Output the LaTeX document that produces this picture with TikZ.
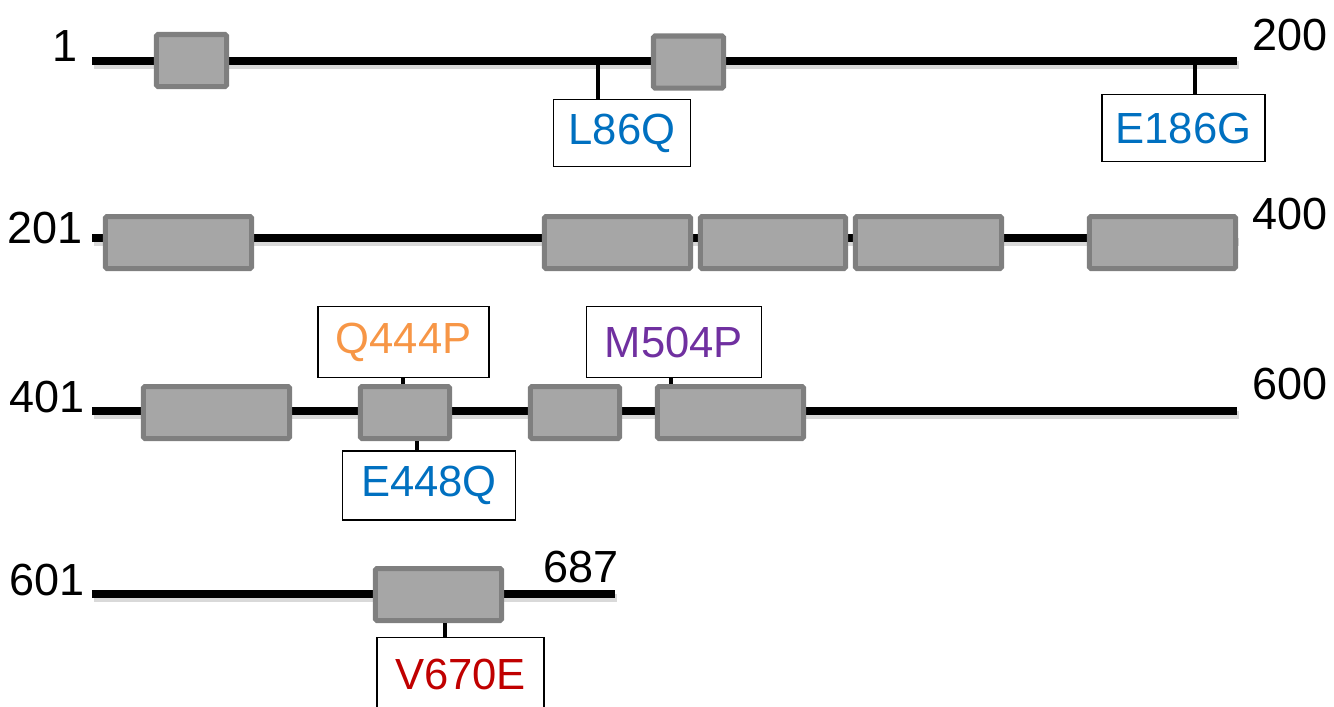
\documentclass[tikz,border=0pt]{standalone}
\usepackage{fontspec}
\setmainfont{Liberation Sans}

\definecolor{domfill}{HTML}{A6A6A6}
\definecolor{domedge}{HTML}{7F7F7F}
\definecolor{mutblue}{HTML}{0070C0}
\definecolor{mutorange}{HTML}{F79646}
\definecolor{mutpurple}{HTML}{7030A0}
\definecolor{mutred}{HTML}{C00000}

\begin{document}
\begin{tikzpicture}[x=0.025cm, y=-0.025cm,
  backbone/.style={line width=0.2cm},
  backshadow/.style={line width=0.2cm, black!15},
  domainbox/.style={draw=domedge, fill=domfill, line width=0.125cm, rounded corners=1pt, minimum height=1.3cm, inner sep=0pt},
  mutbox/.style={draw, fill=white, line width=1.2pt, inner sep=0pt, font=\fontsize{31}{36}\selectfont},
  resnum/.style={inner sep=0pt, font=\fontsize{32}{38}\selectfont},
  stemline/.style={line width=0.11cm}]
\useasboundingbox (0,0) rectangle (1334,706);

\coordinate (s1) at (92,60.5);
\coordinate (e1) at (1237,60.5);
\coordinate (s2) at (92,238);
\coordinate (e2) at (1237,238);
\coordinate (s3) at (92,411);
\coordinate (e3) at (1237,411);
\coordinate (s4) at (92,594);
\coordinate (e4) at (615,594);

\draw[backshadow] ([shift={(2,4)}]s1) -- ([shift={(2,4)}]e1);
\draw[backshadow] ([shift={(2,4)}]s2) -- ([shift={(2,4)}]e2);
\draw[backshadow] ([shift={(2,4)}]s3) -- ([shift={(2,4)}]e3);
\draw[backshadow] ([shift={(2,4)}]s4) -- ([shift={(2,4)}]e4);
\draw[backbone] (s1) -- (e1);
\draw[backbone] (s2) -- (e2);
\draw[backbone] (s3) -- (e3);
\draw[backbone] (s4) -- (e4);

\node[resnum, anchor=east] (n1) at (78,46) {1};
\node[resnum, anchor=west] (n200) at (1252,35) {200};
\node[resnum, anchor=east] (n201) at (83,228.5) {201};
\node[resnum, anchor=west] (n400) at (1252,214.5) {400};
\node[resnum, anchor=east] (n401) at (85,396.5) {401};
\node[resnum, anchor=west] (n600) at (1252,384) {600};
\node[resnum, anchor=east] (n601) at (85,579.5) {601};
\node[resnum, anchor=west] (n687) at (543,566.5) {687};

\node[domainbox, minimum width=1.75cm] (d11) at (191.5,60.5) {};
\node[domainbox, minimum width=1.75cm] (d12) at (688.5,62) {};

\node[domainbox, minimum width=3.65cm] (d21) at (178.5,242.5) {};
\node[domainbox, minimum width=3.65cm] (d22) at (617.5,242.5) {};
\node[domainbox, minimum width=3.625cm] (d23) at (773,242.5) {};
\node[domainbox, minimum width=3.65cm] (d24) at (928.5,242.5) {};
\node[domainbox, minimum width=3.65cm] (d25) at (1162.5,242.5) {};

\node[domainbox, minimum width=3.65cm] (d31) at (216.5,412.5) {};
\node[domainbox, minimum width=2.225cm] (d32) at (405,412.5) {};
\node[domainbox, minimum width=2.225cm] (d33) at (575,412.5) {};
\node[domainbox, minimum width=3.65cm] (d34) at (730.5,412.5) {};

\node[domainbox, minimum width=3.15cm] (d41) at (438.5,594.5) {};

\node[mutbox, text=mutblue, minimum width=3.42cm, minimum height=1.67cm] (l86q) at (622,133) {L86Q};
\node[mutbox, text=mutblue, minimum width=4.09cm, minimum height=1.67cm] (e186g) at (1183.5,128) {E186G};
\node[mutbox, text=mutorange, minimum width=4.29cm, minimum height=1.77cm] (q444p) at (403.5,342) {Q444P};
\node[mutbox, text=mutpurple, minimum width=4.37cm, minimum height=1.77cm] (m504p) at (674,342) {M504P};
\node[mutbox, text=mutblue, minimum width=4.32cm, minimum height=1.74cm] (e448q) at (429,485.5) {E448Q};
\node[mutbox, text=mutred, minimum width=4.19cm, minimum height=1.82cm] (v670e) at (460.5,674) {V670E};

\coordinate (m86) at (598,60.5);
\coordinate (m186) at (1195,60.5);
\coordinate (m444) at (403,412.5);
\coordinate (m448) at (417,412.5);
\coordinate (m504) at (671,412.5);
\coordinate (m670) at (445,594.5);

\draw[stemline] (m86) -- (m86 |- l86q.north);
\draw[stemline] (m186) -- (m186 |- e186g.north);
\draw[stemline] (m444 |- d32.north) -- (m444 |- q444p.south);
\draw[stemline] (m448 |- d32.south) -- (m448 |- e448q.north);
\draw[stemline] (m504 |- d34.north) -- (m504 |- m504p.south);
\draw[stemline] (m670 |- d41.south) -- (m670 |- v670e.north);
\end{tikzpicture}
\end{document}
